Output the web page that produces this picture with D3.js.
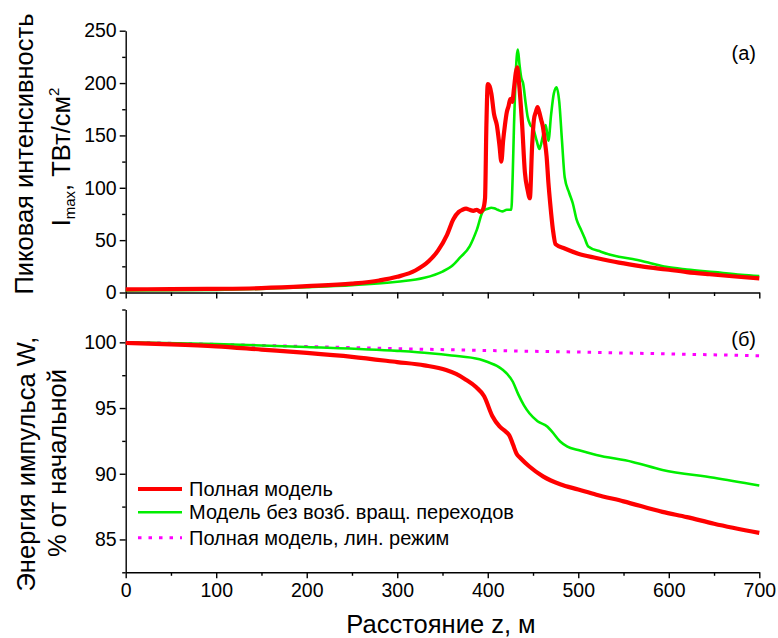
<!DOCTYPE html>
<html>
<head>
<meta charset="utf-8">
<script src="https://cdn.jsdelivr.net/npm/d3@7"></script>
<style>
  html, body { margin: 0; padding: 0; background: #fff; }
  svg { display: block; font-family: Arial, "Liberation Sans", sans-serif; }
  .axis path, .axis line { stroke: #000; stroke-width: 1.4; }
  .axis text { font-size: 19.5px; fill: #000; font-family: Arial, "Liberation Sans", sans-serif; }
</style>
</head>
<body>
<svg id="chart" width="778" height="638"></svg>
<script>
// Peak intensity, full model (z in m, I in TW/cm^2)
const iFullZ = [0,50,100,150,200,250,280,300,320,335,345,355,362,368,372,376,380,384,388,392,395,397,398.5,400,402,404,407,410,413,415,417,419,421,423,425,427,429,431,432.5,434,436,438,441,444,446.5,449,451,453,455,457,459,461,463,465,467,469,472,475,485,500,520,545,570,597,620,645,670,700];
const iFull  = [3,3.2,3.5,4.2,6,8.5,11.5,15,21,30,40,55,70,77,79,80,79,78,79,77,80,90,160,199,197,190,170,160,140,125,145,160,172,178,185,182,195,210,215,205,185,160,115,98,90,140,165,172,177,172,165,158,145,130,105,85,60,46,42,37,33,28.5,25,22,19.5,17.4,15.5,13.5];

// Peak intensity, model without rotational transitions
const iNoRotZ = [0,100,200,250,300,330,350,360,369,380,388,395,400,404,407,411,416,421,426,427.5,429,430.5,432,433.2,435,437,439,442,444,447,450,454,457,459,461,464,467,470,473,476,479,482,485,490,494,498,503,507,511,525,540,560,580,597,620,650,680,700];
const iNoRot  = [2,2.5,5,7,10.3,14,20,25,33,44,60,78,80,81,80.5,79,77.5,79,79,110,160,200,225,232,218,205,200,180,168,160,157,145,137,142,150,160,145,170,190,196,182,145,110,95,85,70,60,52,44,39,35,32,28,24.6,22,19.5,17,15.8];

// Pulse energy, % of initial
const wFullZ = [0,50,100,150,200,250,300,330,354,365,375,387,396,405,413,420,424,428,432,436,446,461,480,500,520,550,593,620,650,700];
const wFull  = [99.95,99.85,99.7,99.45,99.2,98.9,98.5,98.25,97.9,97.6,97.2,96.6,95.9,94.4,93.6,93.2,92.9,92.2,91.5,91.2,90.55,89.8,89.2,88.8,88.4,87.9,87.1,86.7,86.2,85.5];

const wNoRotZ = [0,100,200,300,336,360,391,400,415,427.7,434,440,446,455,466,471,480,488,500,520,560,593,650,700];
const wNoRot  = [100,99.88,99.65,99.35,99.17,99.0,98.71,98.5,98.0,97.0,96.0,95.2,94.6,94.0,93.58,93.2,92.45,92.06,91.8,91.43,90.9,90.29,89.7,89.1];

const wLinZ = [0,100,200,300,400,500,600,700];
const wLin  = [100,99.85,99.68,99.52,99.38,99.26,99.12,98.98];

// Axis ticks
const xTicks = [0,100,200,300,400,500,600,700];
const xMinor = [50,150,250,350,450,550,650];
const iTicks = [0,50,100,150,200,250];
const iMinor = [25,75,125,175,225];
const wTicks = [85,90,95,100];
const wMinor = [82.5,87.5,92.5,97.5,102.5];

const legendLabels = ["Полная модель", "Модель без возб. вращ. переходов", "Полная модель, лин. режим"];
const colors = { full: "#ff0000", noRot: "#00ee00", lin: "#ff00ff" };

const svg = d3.select("#chart");

const x = d3.scaleLinear().domain([0, 700]).range([125.7, 759.3]);
const yI = d3.scaleLinear().domain([0, 250]).range([292.5, 30.7]);
const yW = d3.scaleLinear().domain([82.5, 102.5]).range([572.3, 309.5]);

function pairs(zs, vs) { return zs.map((z, i) => [z, vs[i]]); }

function drawXAxis(y) {
  const y0 = y.range()[0];
  // minor ticks, then major ticks with the axis line
  svg.append("g").attr("class", "axis")
    .attr("transform", `translate(0,${y0})`)
    .call(d3.axisBottom(x).tickValues(xMinor).tickSize(3.5).tickSizeOuter(0).tickFormat(""))
    .select(".domain").remove();
  return svg.append("g").attr("class", "axis")
    .attr("transform", `translate(0,${y0})`)
    .call(d3.axisBottom(x).tickValues(xTicks).tickSize(6).tickSizeOuter(0).tickPadding(5));
}

function drawYAxis(y, major, minor) {
  svg.append("g").attr("class", "axis")
    .attr("transform", `translate(${x(0)},0)`)
    .call(d3.axisLeft(y).tickValues(minor).tickSize(3.5).tickFormat(""))
    .select(".domain").remove();
  svg.append("g").attr("class", "axis")
    .attr("transform", `translate(${x(0)},0)`)
    .call(d3.axisLeft(y).tickValues(major).tickSize(6).tickSizeOuter(0).tickPadding(3));
}

// ---- top panel: peak intensity ----
const gxTop = drawXAxis(yI);
gxTop.selectAll("text").remove();
drawYAxis(yI, iTicks, iMinor);

const lineI = d3.line().x(d => x(d[0])).y(d => yI(d[1])).curve(d3.curveMonotoneX);

svg.append("path").datum(pairs(iNoRotZ, iNoRot))
  .attr("d", lineI).attr("fill", "none")
  .attr("stroke", colors.noRot).attr("stroke-width", 2.6).attr("stroke-linejoin", "round");
svg.append("path").datum(pairs(iFullZ, iFull))
  .attr("d", lineI).attr("fill", "none")
  .attr("stroke", colors.full).attr("stroke-width", 4.2).attr("stroke-linejoin", "round");

svg.append("text").attr("x", 756).attr("y", 60).attr("text-anchor", "end")
  .attr("font-size", 20).text("(а)");

// ---- bottom panel: pulse energy ----
drawXAxis(yW);
drawYAxis(yW, wTicks, wMinor);

const lineW = d3.line().x(d => x(d[0])).y(d => yW(d[1])).curve(d3.curveMonotoneX);

svg.append("path").datum(pairs(wLinZ, wLin))
  .attr("d", lineW).attr("fill", "none")
  .attr("stroke", colors.lin).attr("stroke-width", 3).attr("stroke-dasharray", "3.5,7");
svg.append("path").datum(pairs(wNoRotZ, wNoRot))
  .attr("d", lineW).attr("fill", "none")
  .attr("stroke", colors.noRot).attr("stroke-width", 2.6);
svg.append("path").datum(pairs(wFullZ, wFull))
  .attr("d", lineW).attr("fill", "none")
  .attr("stroke", colors.full).attr("stroke-width", 4.2);

svg.append("text").attr("x", 756).attr("y", 346).attr("text-anchor", "end")
  .attr("font-size", 20).text("(б)");

// legend
const legendStyles = [
  { color: colors.full, width: 4.2, dash: null },
  { color: colors.noRot, width: 2.6, dash: null },
  { color: colors.lin, width: 3, dash: "3.5,7" }
];
const legendY = [489, 512.3, 537.7];
legendLabels.forEach((label, i) => {
  const s = legendStyles[i];
  svg.append("line")
    .attr("x1", 138).attr("x2", 182).attr("y1", legendY[i]).attr("y2", legendY[i])
    .attr("stroke", s.color).attr("stroke-width", s.width)
    .attr("stroke-dasharray", s.dash);
  svg.append("text").attr("x", 189).attr("y", legendY[i] + 7)
    .attr("font-size", 20).text(label);
});

// axis titles
svg.append("text").attr("x", 441).attr("y", 633).attr("text-anchor", "middle")
  .attr("font-size", 25.5).text("Расстояние z, м");

function vLabel(cx, cy) {
  return svg.append("text").attr("transform", `translate(${cx},${cy}) rotate(-90)`)
    .attr("text-anchor", "middle").attr("font-size", 25.5);
}
vLabel(33, 154).text("Пиковая интенсивность");
const t2 = vLabel(70, 157);
t2.append("tspan").text("I");
t2.append("tspan").attr("font-size", 15).attr("dy", 5).text("max");
t2.append("tspan").attr("dy", -5).text(", ТВт/см");
t2.append("tspan").attr("font-size", 15).attr("dy", -11).text("2");

vLabel(35, 464).text("Энергия импульса W,");
vLabel(66, 463).text("% от начальной");
</script>
</body>
</html>
